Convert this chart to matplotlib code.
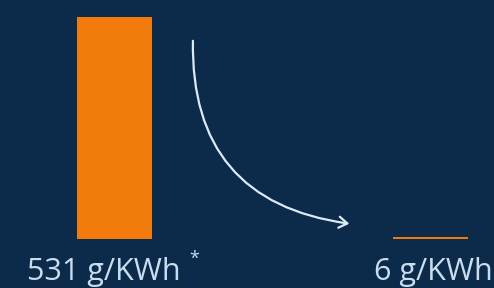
import matplotlib.pyplot as plt
from matplotlib.patches import FancyArrowPatch

labels = ["531 g/KWh", "6 g/KWh"]
values = [531, 6]
label_shift = [-0.032, 0.007]

bg = "#0c2b4b"
orange = "#f07b0c"
txt = "#c9ddef"

fig = plt.figure(figsize=(4.94, 2.88), dpi=100, facecolor=bg)
ax = fig.add_axes([0, 0, 1, 1])
ax.set_facecolor(bg)

x = list(range(len(values)))
ax.bar(x, values, width=0.237, color=orange)
ax.set_xlim(-0.36, 1.199)
ax.set_ylim(-117, 572)
ax.axis("off")

for xi, lab, dx in zip(x, labels, label_shift):
    ax.text(xi + dx, -98, lab, ha="center", va="baseline", color=txt,
            fontsize=22, family="Open Sans")
ax.text(0.252, -26, "*", ha="center", va="top", color=txt,
        fontsize=13, family="Open Sans")

arrow = FancyArrowPatch((0.249, 481), (0.751, 36),
                        connectionstyle="arc3,rad=0.45",
                        arrowstyle="->,head_length=6,head_width=4",
                        color="#dde9f5", lw=1.6)
ax.add_patch(arrow)

fig.savefig("out.png", dpi=100, facecolor=bg)
